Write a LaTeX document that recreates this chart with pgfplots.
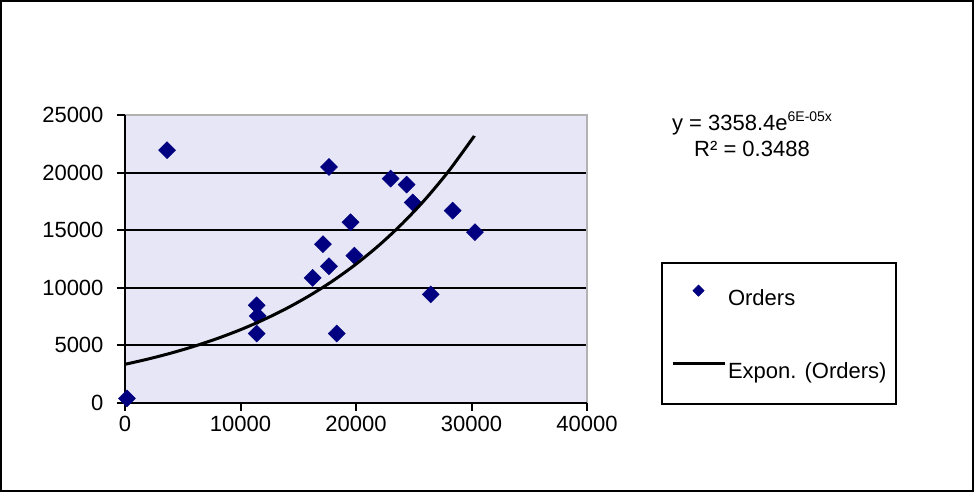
\documentclass[border=0pt]{standalone}
\usepackage{pgfplots}
\pgfplotsset{compat=1.18}
\usepackage{fontspec}
\setmainfont{Liberation Sans}
\definecolor{plotbg}{RGB}{230,230,246}
\definecolor{navy}{RGB}{0,0,128}
\definecolor{bordergray}{RGB}{178,178,178}
\pgfplotsset{
  scatterleg/.style={legend image code/.code={\draw[##1, mark size=4pt] plot coordinates {(26pt,8pt)};}},
  lineleg/.style={legend image code/.code={\draw[##1] (0pt,8pt) -- (52pt,8pt);}},
}
\pgfplotstableread{
x y
170 400
3640 21950
11400 8480
11490 7560
11400 6030
16250 10860
17140 13790
17660 20490
17660 11870
18330 6030
19530 15690
19860 12790
23000 19480
24380 18960
24910 17410
26470 9430
28370 16700
30300 14830
}\orders
\pgfplotstableread{
x y
0 3358
2000 3816
4000 4336
6000 4928
8000 5600
10000 6363
12000 7230
14000 8216
16000 9336
18000 10609
20000 12055
22000 13698
24000 15566
26000 17688
28000 20100
30000 22840
30240 23192
}\trend
\begin{document}
\begin{tikzpicture}[x=1pt,y=1pt]
\useasboundingbox (0,0) rectangle (974,492);
\draw[black,line width=2pt] (1,1) rectangle (973,491);
\begin{axis}[
  at={(125pt,89pt)}, anchor=south west,
  scale only axis, width=462pt, height=288pt,
  xmin=0, xmax=40000, ymin=0, ymax=25000,
  xtick={0,10000,20000,30000,40000},
  ytick={0,5000,10000,15000,20000,25000},
  scaled ticks=false,
  /pgf/number format/1000 sep={},
  /pgf/number format/assume math mode=true,
  tick label style={font=\fontsize{22}{26}\selectfont},
  yticklabel style={xshift=-10pt},
  xticklabel style={yshift=-2pt},
  tick align=outside, major tick length=8pt,
  tick style={black,line width=2pt},
  xtick pos=bottom, ytick pos=left,
  axis line style={draw=none},
  axis background/.style={fill=plotbg},
  ymajorgrids, grid style={black,line width=2pt},
  clip mode=individual,
  legend cell align=left,
  legend style={at={(axis description cs:1.1602,0.4896)}, anchor=north west,
    draw=black, line width=2pt, font=\fontsize{22}{26}\selectfont,
    inner xsep=9pt, inner ysep=22pt, row sep=53pt, column sep=2pt,
    nodes={inner sep=0pt, text height=17pt, text depth=3pt}},
]
\draw[bordergray,line width=2pt] (rel axis cs:0,1) -- (rel axis cs:1,1) -- (rel axis cs:1,0);
\draw[black,line width=2pt] (rel axis cs:0,1) -- (rel axis cs:0,0) -- (rel axis cs:1,0);
\addplot[only marks, mark=square*, mark size=6pt,
  mark options={rotate=45, fill=navy, draw=navy, line width=0.5pt}, scatterleg]
  table {\orders};
\addlegendentry{Orders}
\addplot[black, line width=3pt, smooth, no marks, lineleg]
  table {\trend};
\addlegendentry{Expon. (Orders)}
\end{axis}
\node[align=center, font=\fontsize{22}{26}\selectfont] at (752,358)
  {y = 3358.4e\raisebox{0.42em}{\fontsize{14}{14}\selectfont 6E-05x}\\R² = 0.3488};
\end{tikzpicture}
\end{document}
